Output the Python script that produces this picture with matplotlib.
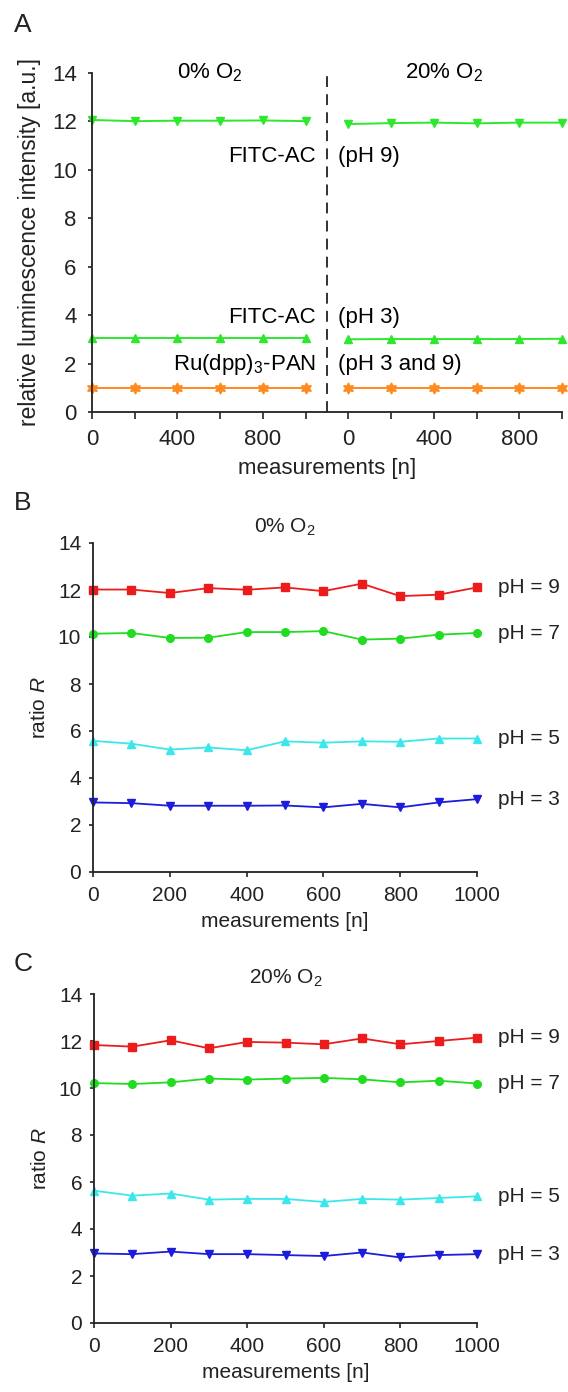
import matplotlib
matplotlib.use("Agg")
import matplotlib.pyplot as plt

plt.rcParams['font.family'] = ['Liberation Sans', 'DejaVu Sans']
plt.rcParams['mathtext.fontset'] = 'custom'
plt.rcParams['mathtext.rm'] = 'Liberation Sans'
plt.rcParams['mathtext.it'] = 'Liberation Sans:italic'
plt.rcParams['mathtext.bf'] = 'Liberation Sans:bold'

# ---------------- data ----------------
# Panel A (intensity), measurements 0..1000 step 200, for 0% O2 and 20% O2
n_A = [0, 200, 400, 600, 800, 1000]
fitc_ph9_0 = [12.05, 12.00, 12.02, 12.02, 12.03, 12.00]
fitc_ph9_20 = [11.88, 11.92, 11.94, 11.91, 11.94, 11.94]
fitc_ph3_0 = [3.05, 3.05, 3.05, 3.05, 3.05, 3.05]
fitc_ph3_20 = [3.00, 3.01, 3.01, 3.01, 3.01, 3.02]
ru_0 = [1.00, 1.00, 1.00, 1.00, 1.00, 1.00]
ru_20 = [1.00, 1.00, 1.00, 1.00, 1.00, 1.00]
tick_labels_A = ['0', '', '400', '', '800', '']

# Panels B and C (ratio R), measurements 0..1000 step 100
n_BC = [0, 100, 200, 300, 400, 500, 600, 700, 800, 900, 1000]
ph_labels = ['pH = 9', 'pH = 7', 'pH = 5', 'pH = 3']

B_ph9 = [12.02, 12.02, 11.87, 12.08, 12.01, 12.11, 11.95, 12.27, 11.74, 11.80, 12.11]
B_ph7 = [10.14, 10.17, 9.96, 9.97, 10.21, 10.21, 10.25, 9.89, 9.93, 10.10, 10.17]
B_ph5 = [5.58, 5.46, 5.21, 5.30, 5.18, 5.56, 5.50, 5.56, 5.54, 5.68, 5.68]
B_ph3 = [2.96, 2.93, 2.82, 2.82, 2.82, 2.83, 2.75, 2.90, 2.75, 2.96, 3.10]

C_ph9 = [11.83, 11.76, 12.03, 11.69, 11.96, 11.93, 11.86, 12.11, 11.86, 12.00, 12.14]
C_ph7 = [10.21, 10.17, 10.24, 10.40, 10.36, 10.40, 10.43, 10.37, 10.24, 10.31, 10.19]
C_ph5 = [5.63, 5.42, 5.51, 5.25, 5.28, 5.28, 5.15, 5.28, 5.25, 5.32, 5.39]
C_ph3 = [2.96, 2.93, 3.04, 2.93, 2.93, 2.89, 2.85, 3.00, 2.79, 2.89, 2.93]

# ---------------- styling ----------------
W, H = 568, 1392
fig = plt.figure(figsize=(W / 100, H / 100), dpi=100)

def rect(x0, x1, ytop, ybot):
    return [x0 / W, 1 - ybot / H, (x1 - x0) / W, (ybot - ytop) / H]

green_A = '#2ee82e'
orange = '#ff8a1e'
col_ph = ['#ec1c1c', '#22dc22', '#3ae8ec', '#1c1cdc']
mk_ph = ['s', 'o', '^', 'v']
star6 = (6, 1, 0)

def style_axis(ax, fs, xlen, ylen, xpad, ypad):
    for s in ['top', 'right']:
        ax.spines[s].set_visible(False)
    for s in ['left', 'bottom']:
        ax.spines[s].set_linewidth(1.3)
        ax.spines[s].set_color('#222222')
    ax.tick_params(axis='x', direction='out', length=xlen, width=1.2, pad=xpad,
                   labelsize=fs, colors='#222222')
    ax.tick_params(axis='y', direction='out', length=ylen, width=1.2, pad=ypad,
                   labelsize=fs, colors='#222222')

# ---------------- Panel A ----------------
axA = fig.add_axes(rect(92, 562, 72.7, 412))
offset = 1200
xr = [v + offset for v in n_A]
kw = dict(lw=1.4, clip_on=False)
axA.plot(n_A, fitc_ph9_0, color=green_A, marker='v', ms=6, **kw)
axA.plot(xr, fitc_ph9_20, color=green_A, marker='v', ms=6, **kw)
axA.plot(n_A, fitc_ph3_0, color=green_A, marker='^', ms=6, **kw)
axA.plot(xr, fitc_ph3_20, color=green_A, marker='^', ms=6, **kw)
axA.plot(n_A, ru_0, color=orange, marker=star6, ms=8, **kw)
axA.plot(xr, ru_20, color=orange, marker=star6, ms=8, **kw)
axA.plot([1100, 1100], [0, 14], color='#222222', lw=1.3, ls=(0, (6, 4)))
axA.set_xlim(0, 2200)
axA.set_ylim(0, 14)
axA.set_yticks([0, 2, 4, 6, 8, 10, 12, 14])
axA.set_xticks(n_A + xr)
axA.set_xticklabels(tick_labels_A + tick_labels_A)
style_axis(axA, 16, 5, 3, 7, 8)
axA.set_xlabel('measurements [n]', fontsize=16, labelpad=6, color='#222222')
axA.set_ylabel('relative luminescence intensity [a.u.]', fontsize=16.5,
               labelpad=8, color='#222222')
fsA = 16
axA.text(550, 13.78, '0% O$_2$', ha='center', va='baseline', fontsize=fsA)
axA.text(1650, 13.78, '20% O$_2$', ha='center', va='baseline', fontsize=fsA)
axA.text(1048, 10.33, 'FITC-AC', ha='right', va='baseline', fontsize=fsA)
axA.text(1150, 10.33, '(pH 9)', ha='left', va='baseline', fontsize=fsA)
axA.text(1048, 3.66, 'FITC-AC', ha='right', va='baseline', fontsize=fsA)
axA.text(1150, 3.66, '(pH 3)', ha='left', va='baseline', fontsize=fsA)
axA.text(1048, 1.73, 'Ru(dpp)$_3$-PAN', ha='right', va='baseline', fontsize=fsA)
axA.text(1150, 1.73, '(pH 3 and 9)', ha='left', va='baseline', fontsize=fsA)

# ---------------- Panels B and C ----------------
def ratio_panel(r, series, title):
    ax = fig.add_axes(r)
    for vals, c, m, lab in zip(series, col_ph, mk_ph, ph_labels):
        ax.plot(n_BC, vals, color=c, marker=m, ms=5.5, lw=1.3, clip_on=False)
        ax.annotate(lab, xy=(n_BC[-1], vals[-1]), xytext=(15, 0),
                    textcoords='offset points', ha='left', va='center',
                    fontsize=15, color='#222222', annotation_clip=False)
    ax.set_xlim(0, 1000)
    ax.set_ylim(0, 14)
    ax.set_yticks([0, 2, 4, 6, 8, 10, 12, 14])
    ax.set_xticks([0, 200, 400, 600, 800, 1000])
    style_axis(ax, 15, 3.8, 3, 6.5, 5.5)
    ax.set_xlabel('measurements [n]', fontsize=15, labelpad=5, color='#222222')
    ax.set_ylabel('ratio $R$', fontsize=15, labelpad=6, color='#222222')
    ax.text(0.5, 1.032, title, transform=ax.transAxes, ha='center',
            va='baseline', fontsize=15, color='#222222')
    return ax

axB = ratio_panel(rect(93, 477, 543, 872), [B_ph9, B_ph7, B_ph5, B_ph3], '0% O$_2$')
axC = ratio_panel(rect(94, 477, 994, 1323), [C_ph9, C_ph7, C_ph5, C_ph3], '20% O$_2$')

# panel letters
for lab, y in [('A', 25), ('B', 503), ('C', 964)]:
    fig.text(14 / W, 1 - y / H, lab, ha='left', va='center', fontsize=19,
             color='#222222')

fig.savefig('out.png', dpi=100)
